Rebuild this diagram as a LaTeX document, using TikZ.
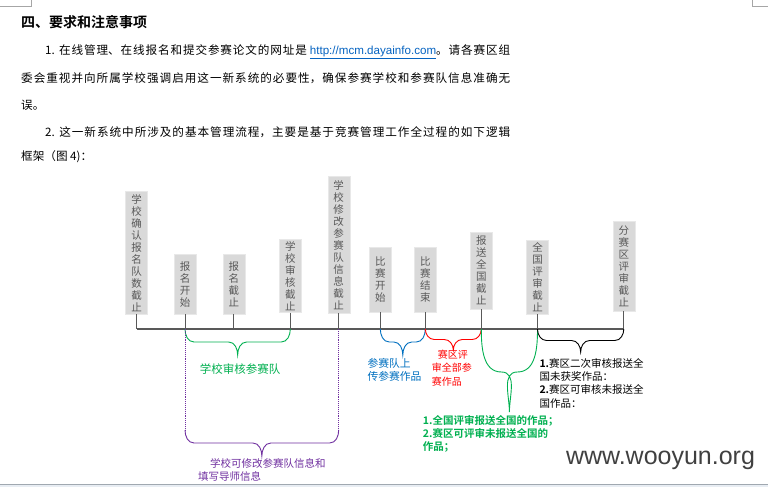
\documentclass[tikz,border=0pt]{standalone}
\usepackage{fontspec}
\setmainfont{Noto Sans CJK SC}[BoldFont={Noto Sans CJK SC Bold}]
\newfontfamily\urlfont{Liberation Sans}
\usetikzlibrary{calc}
\XeTeXlinebreaklocale "zh"
\XeTeXlinebreakskip=0pt plus 4pt

\definecolor{boxgray}{HTML}{D9D9D9}
\definecolor{boxtext}{HTML}{595959}
\definecolor{axisgray}{HTML}{595959}
\definecolor{tlgreen}{HTML}{00B050}
\definecolor{tlpurple}{HTML}{7030A0}
\definecolor{tlblue}{HTML}{0070C0}
\definecolor{tlred}{HTML}{FF0000}
\definecolor{linkblue}{HTML}{0563C1}
\definecolor{markgray}{HTML}{A6A6A6}
\definecolor{footgray}{HTML}{A0A8B0}
\definecolor{footfill}{HTML}{E8EDF3}
\definecolor{marktext}{HTML}{404040}

\tikzset{
  datebox/.style={fill=boxgray, draw=boxgray!60, text=boxtext, inner xsep=5pt,
    inner ysep=2pt, text width=12pt, align=center, anchor=north,
    font=\fontsize{10.5}{12}\selectfont},
  stem/.style={draw=axisgray, line width=1pt},
  axis/.style={draw=axisgray, line width=1.2pt},
  braceline/.style={line width=0.9pt},
  label/.style={inner sep=0pt, align=left, anchor=north west},
}

\newcommand{\tlbrace}[4][black]{%
  \coordinate (tip) at ($(#2)!0.5!(#3)+(0,-#4)$);
  \draw[braceline,#1] (#2) to[out=-90,in=180] ++(9,-#4/2)
    -- ($(tip)+(-9,#4/2)$) to[out=0,in=90] (tip)
    to[out=90,in=180] ++(9,#4/2) -- ($(#3)+(-9,-#4/2)$) to[out=0,in=-90] (#3);
}

\begin{document}
\begin{tikzpicture}[x=1pt,y=1pt]
  \path[fill=white] (0,0) rectangle (768,-487);
  \useasboundingbox (0,0) rectangle (768,-487);
  \draw[markgray] (0,-6.7) -- (30.7,-6.7) -- (30.7,0);
  \draw[markgray] (752.3,0) -- (752.3,-6.7) -- (768,-6.7);
  \fill[footfill] (0,-485) rectangle (768,-487);
  \draw[footgray] (0,-484) -- (768,-484);

  \node[anchor=west, inner sep=0pt, font=\bfseries\fontsize{14}{16}\selectfont] (title) at (21,-21.7) {四、要求和注意事项};
  \node[label, text width=489pt, align=justify, font=\fontsize{11.6}{27.5}\selectfont] (para1) at (21,-44.5)
    {\hspace*{24pt}1. 在线管理、在线报名和提交参赛论文的网址是 {\urlfont\color{linkblue}\underline{http://mcm.dayainfo.com}}。请各赛区组\linebreak
     委会重视并向所属学校强调启用这一新系统的必要性，确保参赛学校和参赛队信息准确无\linebreak
     误。};
  \node[label, text width=489pt, align=justify, font=\fontsize{11.6}{24.5}\selectfont] (para2) at (21,-126)
    {\hspace*{24pt}2. 这一新系统中所涉及的基本管理流程，主要是基于竞赛管理工作全过程的如下逻辑\linebreak
     框架（图 4)：};

  \foreach \name/\x/\top/\bot/\txt in {
      confirm/136.5/191/314/{学\\校\\确\\认\\报\\名\\队\\数\\截\\止},
      regstart/185/254/314/{报\\名\\开\\始},
      regend/233.8/254/314/{报\\名\\截\\止},
      review/290.3/239/311/{学\\校\\审\\核\\截\\止},
      modify/338.7/176/313/{学\\校\\修\\改\\参\\赛\\队\\信\\息\\截\\止},
      start/380.3/247/312/{比\\赛\\开\\始},
      finish/425.3/247/312/{比\\赛\\结\\束},
      submit/481.3/232/309/{报\\送\\全\\国\\截\\止},
      national/537.5/240/314/{全\\国\\评\\审\\截\\止},
      regional/623.8/221/311/{分\\赛\\区\\评\\审\\截\\止}} {
    \node[datebox, minimum height={(\bot-\top)*1pt}] (\name) at (\x,-\top) {\txt};
    \coordinate (\name-t) at (\x,-329);
    \draw[stem] (\name) -- (\name-t);
  }
  \draw[axis] (confirm-t) -- (regional-t);

  \tlbrace[tlgreen]{regstart-t}{review-t}{26}
  \node[text=tlgreen, font=\fontsize{11.5}{13}\selectfont] (checklbl) at (240,-369) {学校审核参赛队};

  \coordinate (pleft) at ($(regstart-t)+(0,-101)$);
  \coordinate (pright) at ($(modify-t)+(0,-101)$);
  \draw[tlpurple, braceline, densely dotted] (regstart-t) -- (pleft);
  \draw[tlpurple, braceline, densely dotted] (modify-t) -- (pright);
  \tlbrace[tlpurple]{pleft}{pright}{26}
  \node[label, text=tlpurple, font=\fontsize{10.5}{12.7}\selectfont] (editlbl) at (198,-458.8)
    {\hspace*{12pt}学校可修改参赛队信息和\\填写导师信息};

  \tlbrace[tlblue]{start-t}{finish-t}{26}
  \node[label, text=tlblue, font=\fontsize{10.8}{13.4}\selectfont] (uploadlbl) at (367.3,-357.9)
    {参赛队上\\传参赛作品};

  \tlbrace[tlred]{finish-t}{submit-t}{21}
  \node[label, text=tlred, font=\fontsize{10}{13.3}\selectfont] (judgelbl) at (431.7,-350)
    {\hspace*{6pt}赛区评\\审全部参\\赛作品};

  \coordinate (gtip) at ($(submit-t)!0.5!(national-t)+(0,-83)$);
  \draw[tlgreen, braceline] (submit-t) to[out=-90,in=180] ($(gtip)+(-8,40)$) to[out=0,in=90] (gtip)
    to[out=90,in=180] ($(gtip)+(8,40)$) to[out=0,in=-90] (national-t);
  \node[label, text=tlgreen, font=\bfseries\fontsize{10.5}{13.3}\selectfont] (worklbl) at (422.7,-414.8)
    {1.全国评审报送全国的作品；\\2.赛区可评审未报送全国的\\作品；};

  \tlbrace[black]{national-t}{regional-t}{23}
  \node[label, font=\fontsize{10.5}{13.3}\selectfont] (awardlbl) at (539.3,-358)
    {\textbf{1.}赛区二次审核报送全\\国未获奖作品：\\\textbf{2.}赛区可审核未报送全\\国作品：};

  \node[text=marktext, font=\urlfont\fontsize{25}{28}\selectfont] (mark) at (660.5,-460) {www.wooyun.org};
\end{tikzpicture}
\end{document}
